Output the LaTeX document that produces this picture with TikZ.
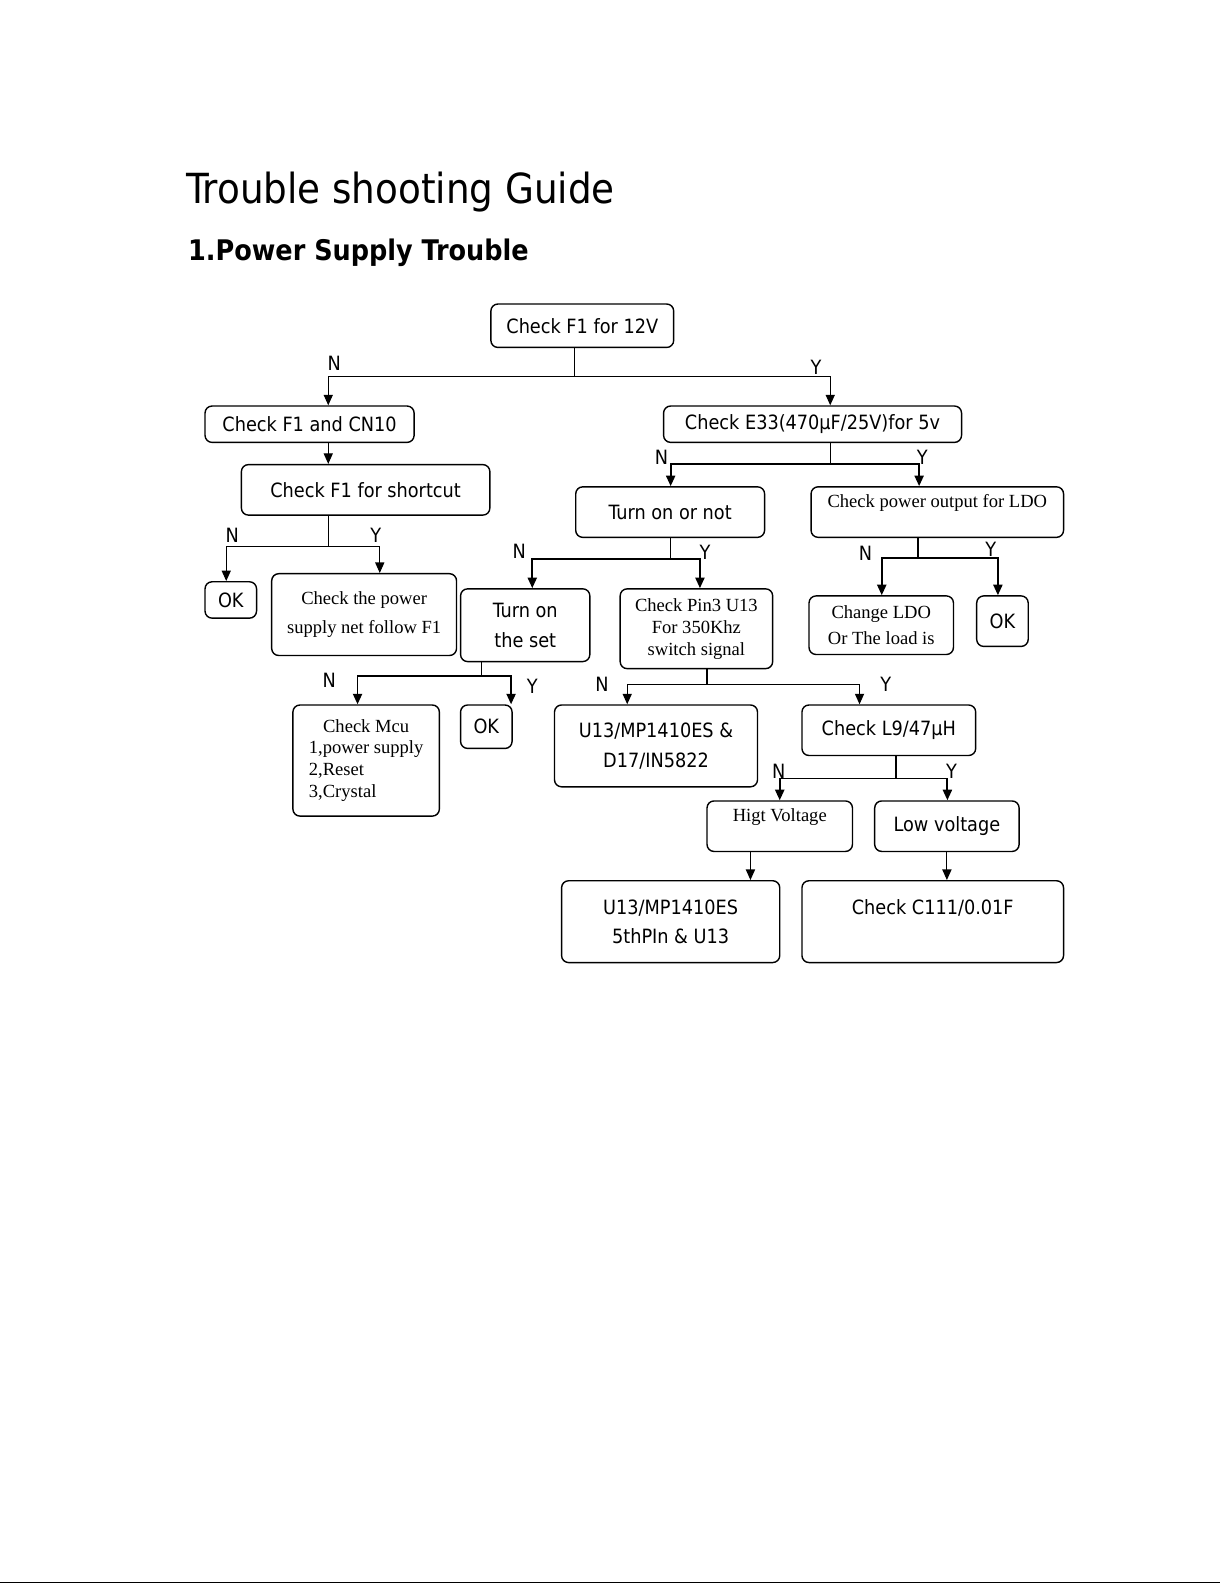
\documentclass[tikz,border=0pt]{standalone}
\usepackage{fontspec}
\setmainfont{DejaVu Sans Condensed}
\newfontfamily\cnserif{Liberation Serif}
\usetikzlibrary{arrows.meta,positioning,calc}
\newcommand{\pxu}{0.02525cm}

\begin{document}
\begin{tikzpicture}[x=0.02525cm, y=-0.02525cm,
    box/.style={rectangle, draw, rounded corners=5pt, line width=1pt, align=center, inner sep=0pt, font=\fontsize{14}{17}\selectfont},
    sbox/.style={box, font=\cnserif\fontsize{13.2}{15.6}\selectfont},
    wh/.style 2 args={minimum width=#1*\pxu, minimum height=#2*\pxu},
    link/.style={line width=0.8pt},
    arrow/.style={-{Triangle[length=7.5pt,width=6.5pt]}, line width=0.8pt},
    lbl/.style={font=\fontsize{14}{17}\selectfont, inner sep=0pt}
]
\useasboundingbox (0,0) rectangle (1208,1567.3);

% headings
\node[anchor=base west, inner sep=0pt, font=\fontsize{29.5}{34}\selectfont] (title) at (184,201) {Trouble shooting Guide};
\node[anchor=base west, inner sep=0pt, font=\bfseries\fontsize{20.2}{24}\selectfont] (sub) at (186,257.5) {1.Power Supply Trouble};

% boxes
\node[box, wh={181}{43}] (f12) at (576.5,322.5) {Check F1 for 12V};
\node[box, wh={207}{36}] (cn) at (306.5,420) {Check F1 and CN10};
\node[box, wh={246}{50}] (sc) at (362,485) {Check F1 for shortcut};
\node[box, wh={51}{36}] (ok1) at (228.5,594) {OK};
\node[sbox, wh={183}{81}] (pw) at (360.5,608.5) {Check the power\\[5pt]supply net follow F1};
\node[box, wh={295}{36}] (e33) at (804.5,420) {Check E33(470μF/25V)for 5v};
\node[box, wh={187}{50}] (ton) at (663.5,507) {Turn on or not};
\node[sbox, wh={250}{50}] (ldo) at (928,507) {Check power output for LDO\\\mbox{}};
\node[box, wh={128}{72}] (set) at (520,619) {Turn on\\[4pt]the set};
\node[sbox, wh={151}{79}] (pin) at (689.5,622.5) {Check Pin3 U13\\For 350Khz\\switch signal};
\node[sbox, wh={143}{58}] (chg) at (872.5,619) {Change LDO\\[3pt]Or The load is};
\node[box, wh={51}{50}] (ok2) at (992.5,615) {OK};
\node[sbox, wh={145}{110}] (mcu) at (362.5,753) {\begin{tabular}{@{}l@{}}\multicolumn{1}{@{}c@{}}{Check Mcu}\\1,power supply\\2,Reset\\3,Crystal\end{tabular}};
\node[box, wh={51}{43}] (ok3) at (481.5,719.5) {OK};
\node[box, wh={201}{81}] (u13) at (649.5,738.5) {U13/MP1410ES \&\\[4pt]D17/IN5822};
\node[box, wh={172}{50}] (l9) at (880,723) {Check L9/47μH};
\node[sbox, wh={144}{50}] (hv) at (772,818) {Higt Voltage\\\mbox{}};
\node[box, wh={143}{50}] (lv) at (937.5,818) {Low voltage};
\node[box, wh={216}{81}] (u5) at (664,912.5) {U13/MP1410ES\\[4pt]5thPIn \& U13};
\node[box, wh={259}{81}] (c111) at (923.5,912.5) {Check C111/0.01F\\[4pt]\mbox{}};

% branches
\coordinate (j1) at ($(f12.south)+(-7.5,28)$);
\draw[link] (f12.south -| j1) -- (j1);
\draw[arrow] (j1) -| ($(cn.north)+(18.5,0)$);
\draw[arrow] (j1) -| ($(e33.north)+(17.5,0)$);

\coordinate (j2) at ($(cn.south)+(18.5,0)$);
\draw[arrow] (j2) -- (j2 |- sc.north);

\coordinate (j3) at ($(sc.south)+(-37,30)$);
\draw[link] (sc.south -| j3) -- (j3);
\draw[arrow] (j3) -| ($(ok1.north)+(-4.5,0)$);
\draw[arrow] (j3) -| ($(pw.north)+(15.5,0)$);

\coordinate (j4) at ($(e33.south)+(17.5,21)$);
\draw[link] (e33.south -| j4) -- (j4);
\draw[arrow, line width=1.3pt] (j4) -| ($(ton.north)+(0.5,0)$);
\draw[arrow, line width=1.3pt] (j4) -| ($(ldo.north)+(-18,0)$);

\coordinate (j5) at ($(ton.south)+(0.5,21)$);
\draw[link] (ton.south -| j5) -- (j5);
\draw[arrow, line width=1.3pt] (j5) -| ($(set.north)+(7,0)$);
\draw[arrow, line width=1.3pt] (j5) -| ($(pin.north)+(3.5,0)$);

\coordinate (j6) at ($(ldo.south)+(-19,20)$);
\draw[link, line width=1.3pt] (ldo.south -| j6) -- (j6);
\draw[arrow, line width=1.3pt] (j6) -| ($(chg.north)+(0.5,0)$);
\draw[arrow, line width=1.3pt] (j6) -| ($(ok2.north)+(-4.5,0)$);

\coordinate (j7) at ($(set.south)+(-43,14)$);
\draw[link] (set.south -| j7) -- (j7);
\draw[arrow, line width=1.3pt] (j7) -| ($(mcu.north)+(-8.5,0)$);
\draw[arrow, line width=1.3pt] (j7) -| ($(ok3.north)+(24.5,0)$);

\coordinate (j8) at ($(pin.south)+(10.5,15)$);
\draw[link] (pin.south -| j8) -- (j8);
\draw[arrow] (j8) -| ($(u13.north)+(-28.5,0)$);
\draw[arrow] (j8) -| ($(l9.north)+(-29,0)$);

\coordinate (j9) at ($(l9.south)+(7,22)$);
\draw[link, line width=1.3pt] (l9.south -| j9) -- (j9);
\draw[arrow, line width=1.3pt] (j9) -| (hv.north);
\draw[arrow, line width=1.3pt] (j9) -| ($(lv.north)+(0.5,0)$);

\coordinate (j10) at ($(hv.south)+(-29,0)$);
\draw[arrow] (j10) -- (j10 |- u5.north);
\draw[arrow] (lv.south) -- (lv.south |- c111.north);

% N / Y labels
\node[lbl] (n1) at (331,360) {N};
\node[lbl] (y1) at (808,364) {Y};
\node[lbl] (n3) at (230,530) {N};
\node[lbl] (y3) at (372,530) {Y};
\node[lbl] (n4) at (655,453) {N};
\node[lbl] (y4) at (913,453) {Y};
\node[lbl] (n5) at (514,546) {N};
\node[lbl] (y5) at (698,547) {Y};
\node[lbl] (n6) at (857,548) {N};
\node[lbl] (y6) at (981,544) {Y};
\node[lbl] (n7) at (326,674) {N};
\node[lbl] (y7) at (527,680) {Y};
\node[lbl] (n8) at (596,678) {N};
\node[lbl] (y8) at (877,678) {Y};
\node[lbl] (n9) at (771,764) {N};
\node[lbl] (y9) at (942,764) {Y};

% page edge
\draw[line width=1pt] (0,1566.5) -- (1208,1566.5);
\end{tikzpicture}
\end{document}
